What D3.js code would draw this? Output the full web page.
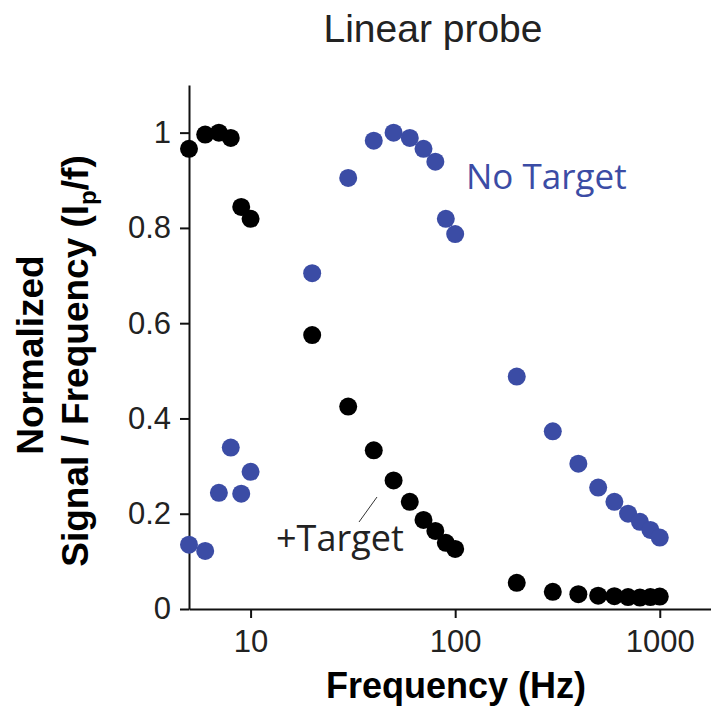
<!DOCTYPE html>
<html>
<head>
<meta charset="utf-8">
<script src="https://cdn.jsdelivr.net/npm/d3@7"></script>
<style>
  body { margin: 0; background: #fff; }
  .axis path, .axis line { stroke: #111; stroke-width: 2; }
  .axis text { font-family: "Liberation Sans", Arial, sans-serif; fill: #222; }
</style>
</head>
<body>
<div class="chart"></div>
<script>
// data
var freqs = [5, 6, 7, 8, 9, 10, 20, 30, 40, 50, 60, 70, 80, 90, 100,
  200, 300, 400, 500, 600, 700, 800, 900, 1000];
var plusTarget = [0.966, 0.996, 1.0, 0.989, 0.844, 0.819, 0.575, 0.425, 0.333, 0.27,
  0.225, 0.187, 0.164, 0.139, 0.126, 0.055, 0.036, 0.031, 0.028, 0.027, 0.025, 0.024, 0.025, 0.026];
var noTarget = [0.135, 0.122, 0.244, 0.339, 0.242, 0.288, 0.705, 0.905, 0.983, 1.0,
  0.989, 0.966, 0.939, 0.819, 0.787, 0.488, 0.373, 0.305, 0.255, 0.225, 0.2, 0.183, 0.166, 0.15];
var xTicks = [10, 100, 1000];
var yTicks = [0, 0.2, 0.4, 0.6, 0.8, 1];

var svgWidth = 711;
var svgHeight = 710;

var margin = { top: 85, right: 0, bottom: 101, left: 189 };
var width = svgWidth - margin.left - margin.right;
var height = svgHeight - margin.top - margin.bottom;

var svg = d3.select(".chart")
  .append("svg")
  .attr("width", svgWidth)
  .attr("height", svgHeight);

var chartGroup = svg.append("g")
  .attr("transform", `translate(${margin.left}, ${margin.top})`);

var xLogScale = d3.scaleLog()
  .domain([5, 1780])
  .range([0, width]);

var yLinearScale = d3.scaleLinear()
  .domain([0, 1.1])
  .range([height, 0]);

var bottomAxis = d3.axisBottom(xLogScale)
  .tickValues(xTicks)
  .tickFormat(d3.format("d"))
  .tickSize(9)
  .tickSizeOuter(0)
  .tickPadding(12);

var leftAxis = d3.axisLeft(yLinearScale)
  .tickValues(yTicks)
  .tickFormat(d => d)
  .tickSize(9)
  .tickSizeOuter(0)
  .tickPadding(9);

chartGroup.append("g")
  .attr("class", "axis")
  .attr("transform", `translate(0, ${height})`)
  .call(bottomAxis)
  .selectAll("text")
  .attr("font-size", "31px");

chartGroup.append("g")
  .attr("class", "axis")
  .call(leftAxis)
  .selectAll("text")
  .attr("font-size", "31px");

// points
var noTargetData = freqs.map((f, i) => ({ f: f, v: noTarget[i] }));
var plusTargetData = freqs.map((f, i) => ({ f: f, v: plusTarget[i] }));

chartGroup.selectAll(".noTarget")
  .data(noTargetData)
  .enter()
  .append("circle")
  .attr("class", "noTarget")
  .attr("cx", d => xLogScale(d.f))
  .attr("cy", d => yLinearScale(d.v))
  .attr("r", 9)
  .attr("fill", "#3b4ca5");

chartGroup.selectAll(".plusTarget")
  .data(plusTargetData)
  .enter()
  .append("circle")
  .attr("class", "plusTarget")
  .attr("cx", d => xLogScale(d.f))
  .attr("cy", d => yLinearScale(d.v))
  .attr("r", 9)
  .attr("fill", "#000");

// annotations
svg.append("text")
  .attr("x", 433)
  .attr("y", 42)
  .attr("text-anchor", "middle")
  .attr("font-family", "Liberation Sans, Arial, sans-serif")
  .attr("font-size", "39px")
  .attr("fill", "#222")
  .text("Linear probe");

svg.append("text")
  .attr("x", 466)
  .attr("y", 189)
  .attr("font-family", "Open Sans, sans-serif")
  .attr("font-size", "35px")
  .attr("fill", "#3b4ca5")
  .text("No Target");

svg.append("text")
  .attr("x", 276)
  .attr("y", 551)
  .attr("font-family", "Open Sans, sans-serif")
  .attr("font-size", "36px")
  .attr("fill", "#222")
  .text("+Target");

svg.append("line")
  .attr("x1", 377).attr("y1", 497)
  .attr("x2", 359).attr("y2", 522)
  .attr("stroke", "#333")
  .attr("stroke-width", 1);

// axis labels
svg.append("text")
  .attr("x", 456)
  .attr("y", 698)
  .attr("text-anchor", "middle")
  .attr("font-family", "Liberation Sans, Arial, sans-serif")
  .attr("font-weight", "bold")
  .attr("font-size", "36px")
  .attr("fill", "#000")
  .text("Frequency (Hz)");

svg.append("text")
  .attr("transform", "translate(43, 355) rotate(-90)")
  .attr("text-anchor", "middle")
  .attr("font-family", "Liberation Sans, Arial, sans-serif")
  .attr("font-weight", "bold")
  .attr("font-size", "37px")
  .attr("fill", "#000")
  .text("Normalized");

var yLab = svg.append("text")
  .attr("transform", "translate(88, 361) rotate(-90)")
  .attr("text-anchor", "middle")
  .attr("font-family", "Liberation Sans, Arial, sans-serif")
  .attr("font-weight", "bold")
  .attr("font-size", "37px")
  .attr("fill", "#000");
yLab.append("tspan").text("Signal / Frequency (I");
yLab.append("tspan").attr("font-size", "24px").attr("dy", 8).text("p");
yLab.append("tspan").attr("dy", -8).text("/f)");
</script>
</body>
</html>
